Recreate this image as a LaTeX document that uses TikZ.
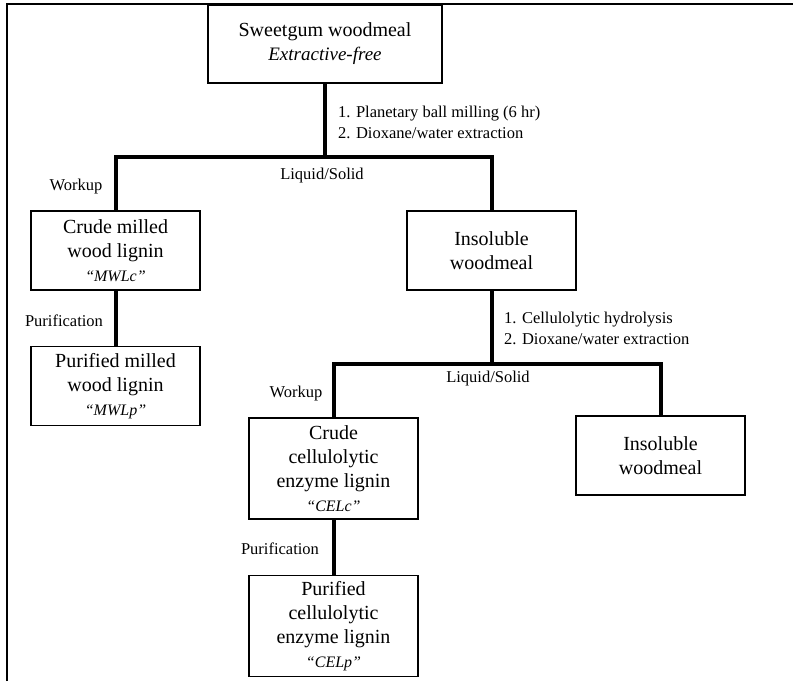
\documentclass[tikz,border=0pt]{standalone}
\usepackage{fontspec}
\setmainfont{Liberation Serif}
\usetikzlibrary{positioning}
\newcommand{\qname}[1]{{\fontsize{16}{19}\selectfont\itshape ``#1''}}

\begin{document}
\begin{tikzpicture}[
  x=1pt, y=-1pt,
  node distance=55pt,
  box/.style={draw,line width=1.3pt,align=center,inner sep=2pt,
              font=\fontsize{20}{24}\selectfont,minimum width=169pt,minimum height=79pt},
  celbox/.style={box,minimum height=101pt},
  lbl/.style={font=\fontsize{16.5}{21}\selectfont,inner sep=0pt},
  link/.style={line width=4pt}
]
  \useasboundingbox (0,0) rectangle (793,681);
  \draw[line width=2pt] (7,681) -- (7,3.5) -- (793,3.5);

  \node[box,minimum width=234pt,minimum height=78pt] (sweet) at (325,44)
       {Sweetgum woodmeal\\ {\fontsize{19}{22}\selectfont\itshape Extractive-free}};
  \node[box] (mwlc) at (115.5,250.5) {Crude milled\\ wood lignin\\ \qname{MWLc}};
  \node[box,below=of mwlc] (mwlp) {Purified milled\\ wood lignin\\ \qname{MWLp}};
  \node[box] (insolA) at (491.5,250.5) {Insoluble\\ woodmeal};
  \node[celbox] (celc) at (333.5,468.5) {Crude\\ cellulolytic\\ enzyme lignin\\ \qname{CELc}};
  \node[celbox,below=of celc] (celp) {Purified\\ cellulolytic\\ enzyme lignin\\ \qname{CELp}};
  \node[box] (insolB) at (660.5,455.5) {Insoluble\\ woodmeal};

  \coordinate (splitA) at (325,157);
  \coordinate (splitB) at (491.5,364);

  \draw[link] (sweet.south) -- (splitA);
  \draw[link] (mwlc.north) |- (splitA) -| (insolA.north);
  \draw[link] (mwlc) -- (mwlp);
  \draw[link] (insolA.south) -- (splitB);
  \draw[link] (celc.north) |- (splitB) -| (insolB.north);
  \draw[link] (celc) -- (celp);

  \node[lbl,anchor=west,align=left] (millnote) at (338,122)
       {1. Planetary ball milling (6 hr)\\ 2. Dioxane/water extraction};
  \node[lbl] (liqA) at (322,176) {Liquid/Solid};
  \node[lbl] (workA) at (76,187) {Workup};
  \node[lbl] (purA) at (64,321) {Purification};
  \node[lbl,anchor=west,align=left] (hydnote) at (504,328)
       {1. Cellulolytic hydrolysis\\ 2. Dioxane/water extraction};
  \node[lbl] (liqB) at (488,379) {Liquid/Solid};
  \node[lbl] (workB) at (296,394) {Workup};
  \node[lbl] (purB) at (280,549) {Purification};
\end{tikzpicture}
\end{document}
